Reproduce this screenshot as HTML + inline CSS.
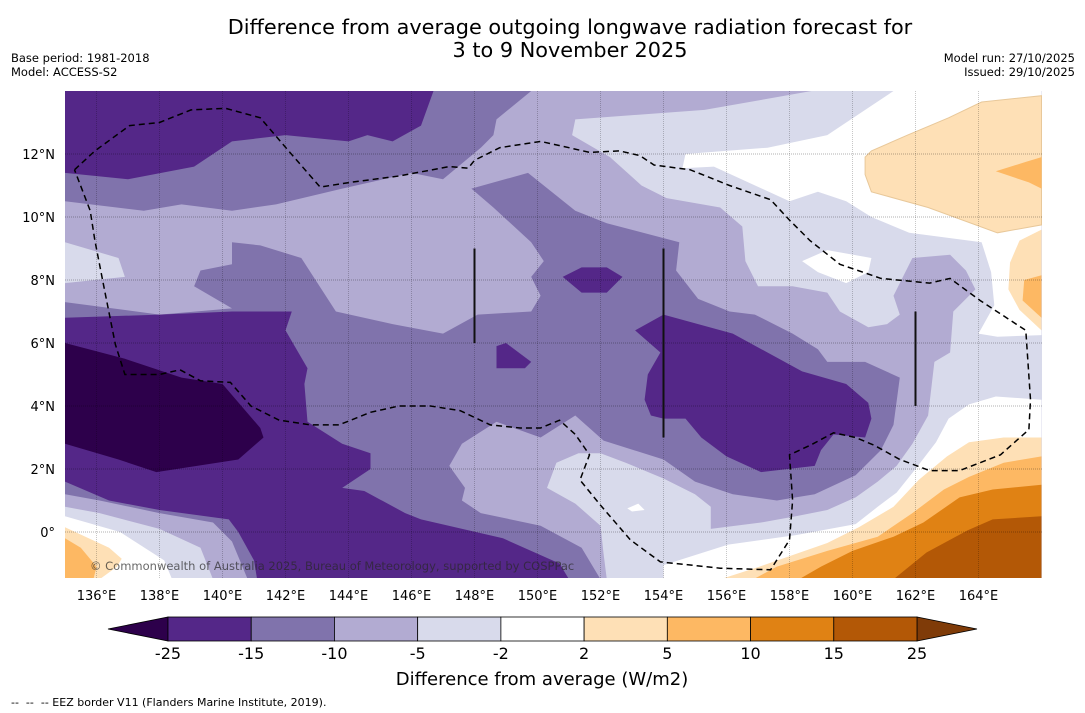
<!DOCTYPE html>
<html><head><meta charset="utf-8"><style>
body{margin:0;background:#fff;width:1085px;height:713px;overflow:hidden;font-family:"DejaVu Sans","Liberation Sans",sans-serif}
svg{position:absolute;left:0;top:0;font-family:"DejaVu Sans","Liberation Sans",sans-serif}
</style></head><body>
<svg id="chart" width="1085" height="713" viewBox="0 0 1085 713" xmlns="http://www.w3.org/2000/svg">
<text x="570" y="34" text-anchor="middle" font-size="20.8" fill="#000">Difference from average outgoing longwave radiation forecast for</text>
<text x="570" y="57" text-anchor="middle" font-size="20.8" fill="#000">3 to 9 November 2025</text>
<text x="11" y="62" font-size="11.5">Base period: 1981-2018</text>
<text x="11" y="76" font-size="11.5">Model: ACCESS-S2</text>
<text x="1075" y="62" font-size="11.5" text-anchor="end">Model run: 27/10/2025</text>
<text x="1075" y="76" font-size="11.5" text-anchor="end">Issued: 29/10/2025</text>
<defs><clipPath id="mapclip"><rect x="65" y="91" width="977" height="487"/></clipPath></defs>
<g id="map" clip-path="url(#mapclip)"></g>
<g id="axes"></g>
<g id="cbar"></g>
<text x="542" y="685" text-anchor="middle" font-size="18">Difference from average (W/m2)</text>
<text x="11" y="706" font-size="11" style="white-space:pre">--  --  -- EEZ border V11 (Flanders Marine Institute, 2019).</text>
</svg>
<script>
// contour bands [lon,lat]
const lavenderBand=[[135,14],[158.7,14],[155.3,13.4],[151.2,13.1],[151.1,12.6],[152.3,11.9],[153.3,11.0],[154.1,10.6],[155.8,10.3],[156.5,9.7],[156.6,8.6],[157.0,7.8],[158.1,7.8],[159.2,7.6],[159.6,7.0],[160.5,6.5],[161.1,6.6],[161.5,6.9],[161.3,7.5],[161.9,8.7],[163.1,8.8],[163.6,8.3],[163.9,7.7],[163.2,7.0],[163.1,5.7],[162.6,5.4],[162.4,3.7],[161.9,2.8],[161.4,2.1],[160.8,1.6],[160.1,1.1],[159.2,0.7],[158.2,0.5],[157.1,0.3],[155.5,0.1],[155.5,0.8],[155.0,1.2],[154.0,1.7],[152.8,2.2],[152.0,2.5],[151.3,2.5],[150.6,2.2],[150.3,1.4],[151.2,0.9],[152.0,0.2],[152.1,-0.7],[152.2,-1.5],[139.7,-1.5],[139.3,-0.5],[138.0,0.1],[136.1,0.6],[135,0.8]];
const leftLightPatch=[[135,9.2],[136.7,8.7],[136.9,8.1],[135,7.9]];
const upperMedium=[[135,14],[149.8,14],[148.7,13.1],[148.6,12.6],[148.2,12.2],[147,11.2],[146,11.4],[143.8,10.9],[141.7,10.4],[140.3,10.2],[138.7,10.4],[137.5,10.2],[135,10.5]];
const upperPurple=[[135,14],[146.7,14],[146.3,12.9],[145.4,12.4],[144.6,12.6],[144.0,12.4],[142.0,12.6],[140.3,12.4],[139.1,11.6],[137.0,11.2],[135,11.4]];
const centerMedium=[[135,7.3],[138.0,6.9],[140.3,7.1],[139.1,7.8],[139.3,8.3],[140.3,8.5],[140.3,9.2],[141.2,9.1],[142.5,8.7],[143.6,7.0],[145.4,6.6],[147.0,6.3],[148.1,6.9],[149.8,7.0],[150.1,7.5],[149.8,8.1],[150.2,8.6],[149.8,9.2],[148.6,10.3],[147.9,10.9],[149.7,11.4],[151.2,10.2],[152.2,9.8],[154.5,9.2],[154.4,8.3],[155.1,7.4],[156.1,7.0],[156.9,6.9],[158.1,6.3],[158.9,5.8],[159.2,5.4],[160.4,5.4],[161.5,4.9],[161.3,3.4],[160.9,2.6],[160.1,1.8],[158.8,1.2],[157.6,1.0],[156.2,1.2],[155.0,1.6],[154.0,2.3],[152.1,2.9],[151.2,3.7],[150.1,3.0],[148.7,3.5],[147.6,2.8],[147.2,2.1],[147.7,1.4],[147.6,1.0],[148.2,0.6],[150.1,0.2],[151.4,-0.5],[152.0,-1.5],[140.8,-1.5],[140.3,-0.3],[139.7,0.3],[138.0,0.6],[136.1,1.0],[135,1.2]];
const lowerPurple=[[135,6.8],[138.0,6.9],[140.3,7.0],[142.2,7.0],[142.0,6.4],[142.7,5.2],[142.6,4.7],[142.7,3.5],[143.8,2.8],[144.7,2.5],[144.7,2.0],[143.8,1.4],[144.5,1.3],[145.8,0.6],[146.3,0.4],[148.9,-0.2],[150.7,-1.0],[151.0,-1.5],[141.1,-1.5],[141.0,-0.9],[140.5,0.0],[140.2,0.4],[138.0,0.7],[136.4,1.0],[135,1.6]];
const darkestCore=[[135,6.0],[136.9,5.5],[138.7,4.9],[140.0,4.7],[141.2,3.3],[141.3,3.0],[140.5,2.3],[137.9,1.9],[136.7,2.3],[135,2.8]];
const rightPurple=[[153.1,6.4],[154.0,6.9],[156.2,6.3],[158.4,5.1],[159.8,4.7],[160.5,4.1],[160.6,3.6],[160.4,3.0],[159.4,3.1],[159.0,2.6],[158.8,2.1],[157.1,1.9],[156.0,2.4],[155.2,3.0],[154.7,3.6],[154.0,3.6],[153.6,3.7],[153.4,4.2],[153.5,5.0],[153.9,5.7]];
const purpleBlobA=[[150.8,8.1],[151.4,8.4],[152.2,8.4],[152.7,8.1],[152.2,7.6],[151.4,7.6]];
const purpleBlobB=[[148.7,5.9],[149.0,6.0],[149.8,5.4],[149.6,5.2],[148.7,5.2]];
const whiteNE=[[161.3,14],[166,14],[166,6.25],[164.6,6.2],[164.0,6.3],[164.5,7.2],[164.4,8.25],[164.1,9.2],[161.8,9.5],[160.6,10.0],[159.8,10.5],[158.9,10.8],[158.0,10.5],[155.6,11.6],[154.6,11.55],[154.7,12.0],[157.3,12.2],[159.2,12.6]];
const whitePatch=[[158.4,8.6],[159.2,8.95],[160.6,8.7],[160.5,8.25],[159.8,7.9],[158.9,8.25]];
const whiteSE=[[154.0,-1.05],[156.05,-0.4],[158.2,-0.1],[160.1,0.25],[160.8,0.8],[161.4,1.25],[162.0,2.0],[162.65,2.85],[163.05,3.6],[163.7,4.05],[164.55,4.3],[166,4.2],[166,-1.5],[154,-1.5]];
const whiteSpot=[[152.85,0.75],[153.2,0.9],[153.4,0.7],[153.0,0.65]];
const whiteSW=[[135,0.5],[136.75,0.0],[138.15,-0.9],[138.4,-1.5],[135,-1.5]];
const orange2SE=[[155.8,-1.5],[157.05,-1.1],[159.2,-0.35],[160.2,0.15],[161.3,0.8],[162.1,1.65],[163.0,2.4],[163.7,2.85],[164.8,3.0],[166,3.0],[166,-1.5]];
const orange5SE=[[156.85,-1.5],[157.6,-1.1],[159.2,-0.6],[160.8,-0.15],[161.9,0.6],[162.9,1.35],[163.7,1.75],[164.8,2.2],[166,2.4],[166,-1.5]];
const orange10SE=[[158.3,-1.5],[159.0,-1.1],[160.0,-0.6],[161.3,-0.15],[162.25,0.3],[163.4,1.1],[164.45,1.35],[166,1.5],[166,-1.5]];
const orange15SE=[[161.3,-1.5],[162.35,-0.65],[163.65,0.05],[164.45,0.4],[166,0.5],[166,-1.5]];
const orange2NE=[[160.4,11.9],[160.6,12.1],[161.75,12.6],[163.05,13.15],[164.1,13.65],[166,13.85],[166,9.75],[164.6,9.5],[162.4,10.3],[160.6,10.8],[160.4,11.35]];
const orange5NE=[[164.55,11.45],[165.5,11.75],[166,11.9],[166,10.9],[165.6,11.1]];
const orange2E=[[166,9.6],[165.3,9.25],[165.0,8.55],[164.95,7.7],[165.3,7.05],[166,6.4]];
const orange5E=[[166,8.15],[165.45,8.0],[165.4,7.35],[166,6.8]];
const orange2SW=[[135,0.15],[136.4,-0.5],[136.8,-0.85],[136.65,-1.1],[136.1,-1.5],[135,-1.5]];
const orange5SW=[[135,-0.2],[135.5,-0.5],[136.0,-1.1],[135.9,-1.5],[135,-1.5]];
const eezBorder=[[135.3,11.5],[135.95,12.1],[137.05,12.9],[138.0,13.0],[139.0,13.4],[140.1,13.45],[141.2,13.15],[142.1,12.1],[143.1,10.95],[144.05,11.1],[145.6,11.3],[147.2,11.6],[147.8,11.55],[148.0,11.8],[148.8,12.2],[150.1,12.4],[151.0,12.2],[151.65,12.05],[152.6,12.1],[153.25,11.95],[153.7,11.65],[154.85,11.5],[156.1,11.0],[157.4,10.55],[158.0,9.9],[158.65,9.25],[159.6,8.5],[160.9,8.05],[162.45,7.9],[163.1,8.05],[164.05,7.35],[165.5,6.4],[165.65,4.2],[165.6,3.25],[164.7,2.45],[163.4,1.95],[162.45,1.95],[161.5,2.3],[160.7,2.75],[160.1,3.0],[159.4,3.15],[158.65,2.75],[158.0,2.45],[158.1,1.0],[158.0,-0.25],[157.4,-1.2],[155.8,-1.15],[153.9,-0.95],[152.95,-0.25],[152.0,0.85],[151.35,1.65],[151.65,2.45],[151.2,3.1],[150.7,3.55],[150.1,3.3],[149.45,3.3],[148.5,3.4],[147.55,3.85],[146.6,4.0],[145.6,4.0],[144.7,3.8],[143.7,3.4],[142.8,3.4],[141.8,3.55],[140.9,4.0],[140.25,4.75],[139.3,4.8],[138.65,5.15],[138.0,5.0],[136.9,5.0],[136.6,5.95],[136.25,7.7],[135.95,9.25],[135.8,10.2],[135.3,11.5]];
const blackLines=[[148,9,6],[154,9,3],[162,7,4]];
const lonTicks=[136,138,140,142,144,146,148,150,152,154,156,158,160,162,164];
const latTicks=[0,2,4,6,8,10,12];
const cbarLevels=["-25","-15","-10","-5","-2","2","5","10","15","25"];
const cbarColors=["#542788","#8073ac","#b2abd2","#d8daeb","#ffffff","#fee0b6","#fdb863","#e08214","#b35806"];

const NS='http://www.w3.org/2000/svg';
const X=lon=>65+(lon-135)*31.5, Y=lat=>91+(14-lat)*31.5;
const map=document.getElementById('map'), axes=document.getElementById('axes'), cbar=document.getElementById('cbar');
function mk(tag,parent){const e=document.createElementNS(NS,tag);parent.appendChild(e);return e;}
function poly(pts,fill,name){const p=mk('polygon',map);p.setAttribute('points',pts.map(q=>X(q[0]).toFixed(1)+','+Y(q[1]).toFixed(1)).join(' '));p.setAttribute('fill',fill);

return p;}
const bg=mk('rect',map);bg.setAttribute('x',65);bg.setAttribute('y',91);bg.setAttribute('width',977);bg.setAttribute('height',487);bg.setAttribute('fill','#d8daeb');


poly(lavenderBand,'#b2abd2','band-minus10');
poly(leftLightPatch,'#d8daeb','band-minus5-left-patch');
poly(upperMedium,'#8073ac','band-minus15-upper');
poly(upperPurple,'#542788','band-minus25-upper');
poly(centerMedium,'#8073ac','band-minus15-center');
poly(lowerPurple,'#542788','band-minus25-lower');
poly(darkestCore,'#2d004b','band-below-minus25');
poly(rightPurple,'#542788','band-minus25-right');
poly(purpleBlobA,'#542788','band-minus25-blob-a');
poly(purpleBlobB,'#542788','band-minus25-blob-b');
poly(whiteNE,'#ffffff','band-neutral-ne');
poly(whitePatch,'#ffffff','band-neutral-patch');
poly(whiteSE,'#ffffff','band-neutral-se');
poly(whiteSpot,'#ffffff','band-neutral-spot');
poly(whiteSW,'#ffffff','band-neutral-sw');
poly(orange2SE,'#fee0b6','band-plus2-se');
poly(orange5SE,'#fdb863','band-plus5-se');
poly(orange10SE,'#e08214','band-plus10-se');
poly(orange15SE,'#b35806','band-plus15-se');
poly(orange2NE,'#fee0b6','band-plus2-ne').setAttribute('stroke','#e8c89a');
poly(orange5NE,'#fdb863','band-plus5-ne');
poly(orange2E,'#fee0b6','band-plus2-e');
poly(orange5E,'#fdb863','band-plus5-e');
poly(orange2SW,'#fee0b6','band-plus2-sw');
poly(orange5SW,'#fdb863','band-plus5-sw');
// grid
lonTicks.forEach(l=>{const g=mk('line',map);g.setAttribute('x1',X(l));g.setAttribute('x2',X(l));g.setAttribute('y1',91);g.setAttribute('y2',578);g.setAttribute('stroke','rgba(0,0,0,0.22)');g.setAttribute('stroke-dasharray','1,1');


const t=mk('text',axes);t.setAttribute('x',X(l));t.setAttribute('y',600);t.setAttribute('text-anchor','middle');t.setAttribute('font-size','13');t.textContent=l+'°E';

});
latTicks.forEach(l=>{const g=mk('line',map);g.setAttribute('x1',65);g.setAttribute('x2',1042);g.setAttribute('y1',Y(l));g.setAttribute('y2',Y(l));g.setAttribute('stroke','rgba(0,0,0,0.3)');g.setAttribute('stroke-dasharray','1,1');


const t=mk('text',axes);t.setAttribute('x',55);t.setAttribute('y',Y(l)+5);t.setAttribute('text-anchor','end');t.setAttribute('font-size','13');t.textContent=l===0?'0°':l+'°N';

});
blackLines.forEach(b=>{const g=mk('line',map);g.setAttribute('x1',X(b[0]));g.setAttribute('x2',X(b[0]));g.setAttribute('y1',Y(b[1]));g.setAttribute('y2',Y(b[2]));g.setAttribute('stroke','#111');g.setAttribute('stroke-width','2');

});
const eez=mk('polyline',map);eez.setAttribute('points',eezBorder.map(q=>X(q[0]).toFixed(1)+','+Y(q[1]).toFixed(1)).join(' '));eez.setAttribute('fill','none');eez.setAttribute('stroke','#000');eez.setAttribute('stroke-width','1.5');eez.setAttribute('stroke-dasharray','6,4');


const cr=mk('text',map);cr.setAttribute('x',90);cr.setAttribute('y',570);cr.setAttribute('font-size','11.5');cr.setAttribute('fill','rgba(40,40,40,0.7)');cr.textContent='© Commonwealth of Australia 2025, Bureau of Meteorology, supported by COSPPac';


// colorbar
const cx0=168,cw=(917-168)/9,cy=617,ch=24;
const lt=mk('polygon',cbar);lt.setAttribute('points',`108,${cy+ch/2} ${cx0},${cy} ${cx0},${cy+ch}`);lt.setAttribute('fill','#2d004b');lt.setAttribute('stroke','#000');lt.setAttribute('stroke-width','0.8');


const rt=mk('polygon',cbar);rt.setAttribute('points',`977,${cy+ch/2} 917,${cy} 917,${cy+ch}`);rt.setAttribute('fill','#7f3b08');rt.setAttribute('stroke','#000');rt.setAttribute('stroke-width','0.8');


cbarColors.forEach((c,i)=>{const r=mk('rect',cbar);r.setAttribute('x',cx0+i*cw);r.setAttribute('y',cy);r.setAttribute('width',cw);r.setAttribute('height',ch);r.setAttribute('fill',c);r.setAttribute('stroke','#000');r.setAttribute('stroke-width','0.8');

});
cbarLevels.forEach((s,i)=>{const t=mk('text',cbar);t.setAttribute('x',cx0+i*cw);t.setAttribute('y',659);t.setAttribute('text-anchor','middle');t.setAttribute('font-size','16');t.textContent=s;

});
</script>
</body></html>
